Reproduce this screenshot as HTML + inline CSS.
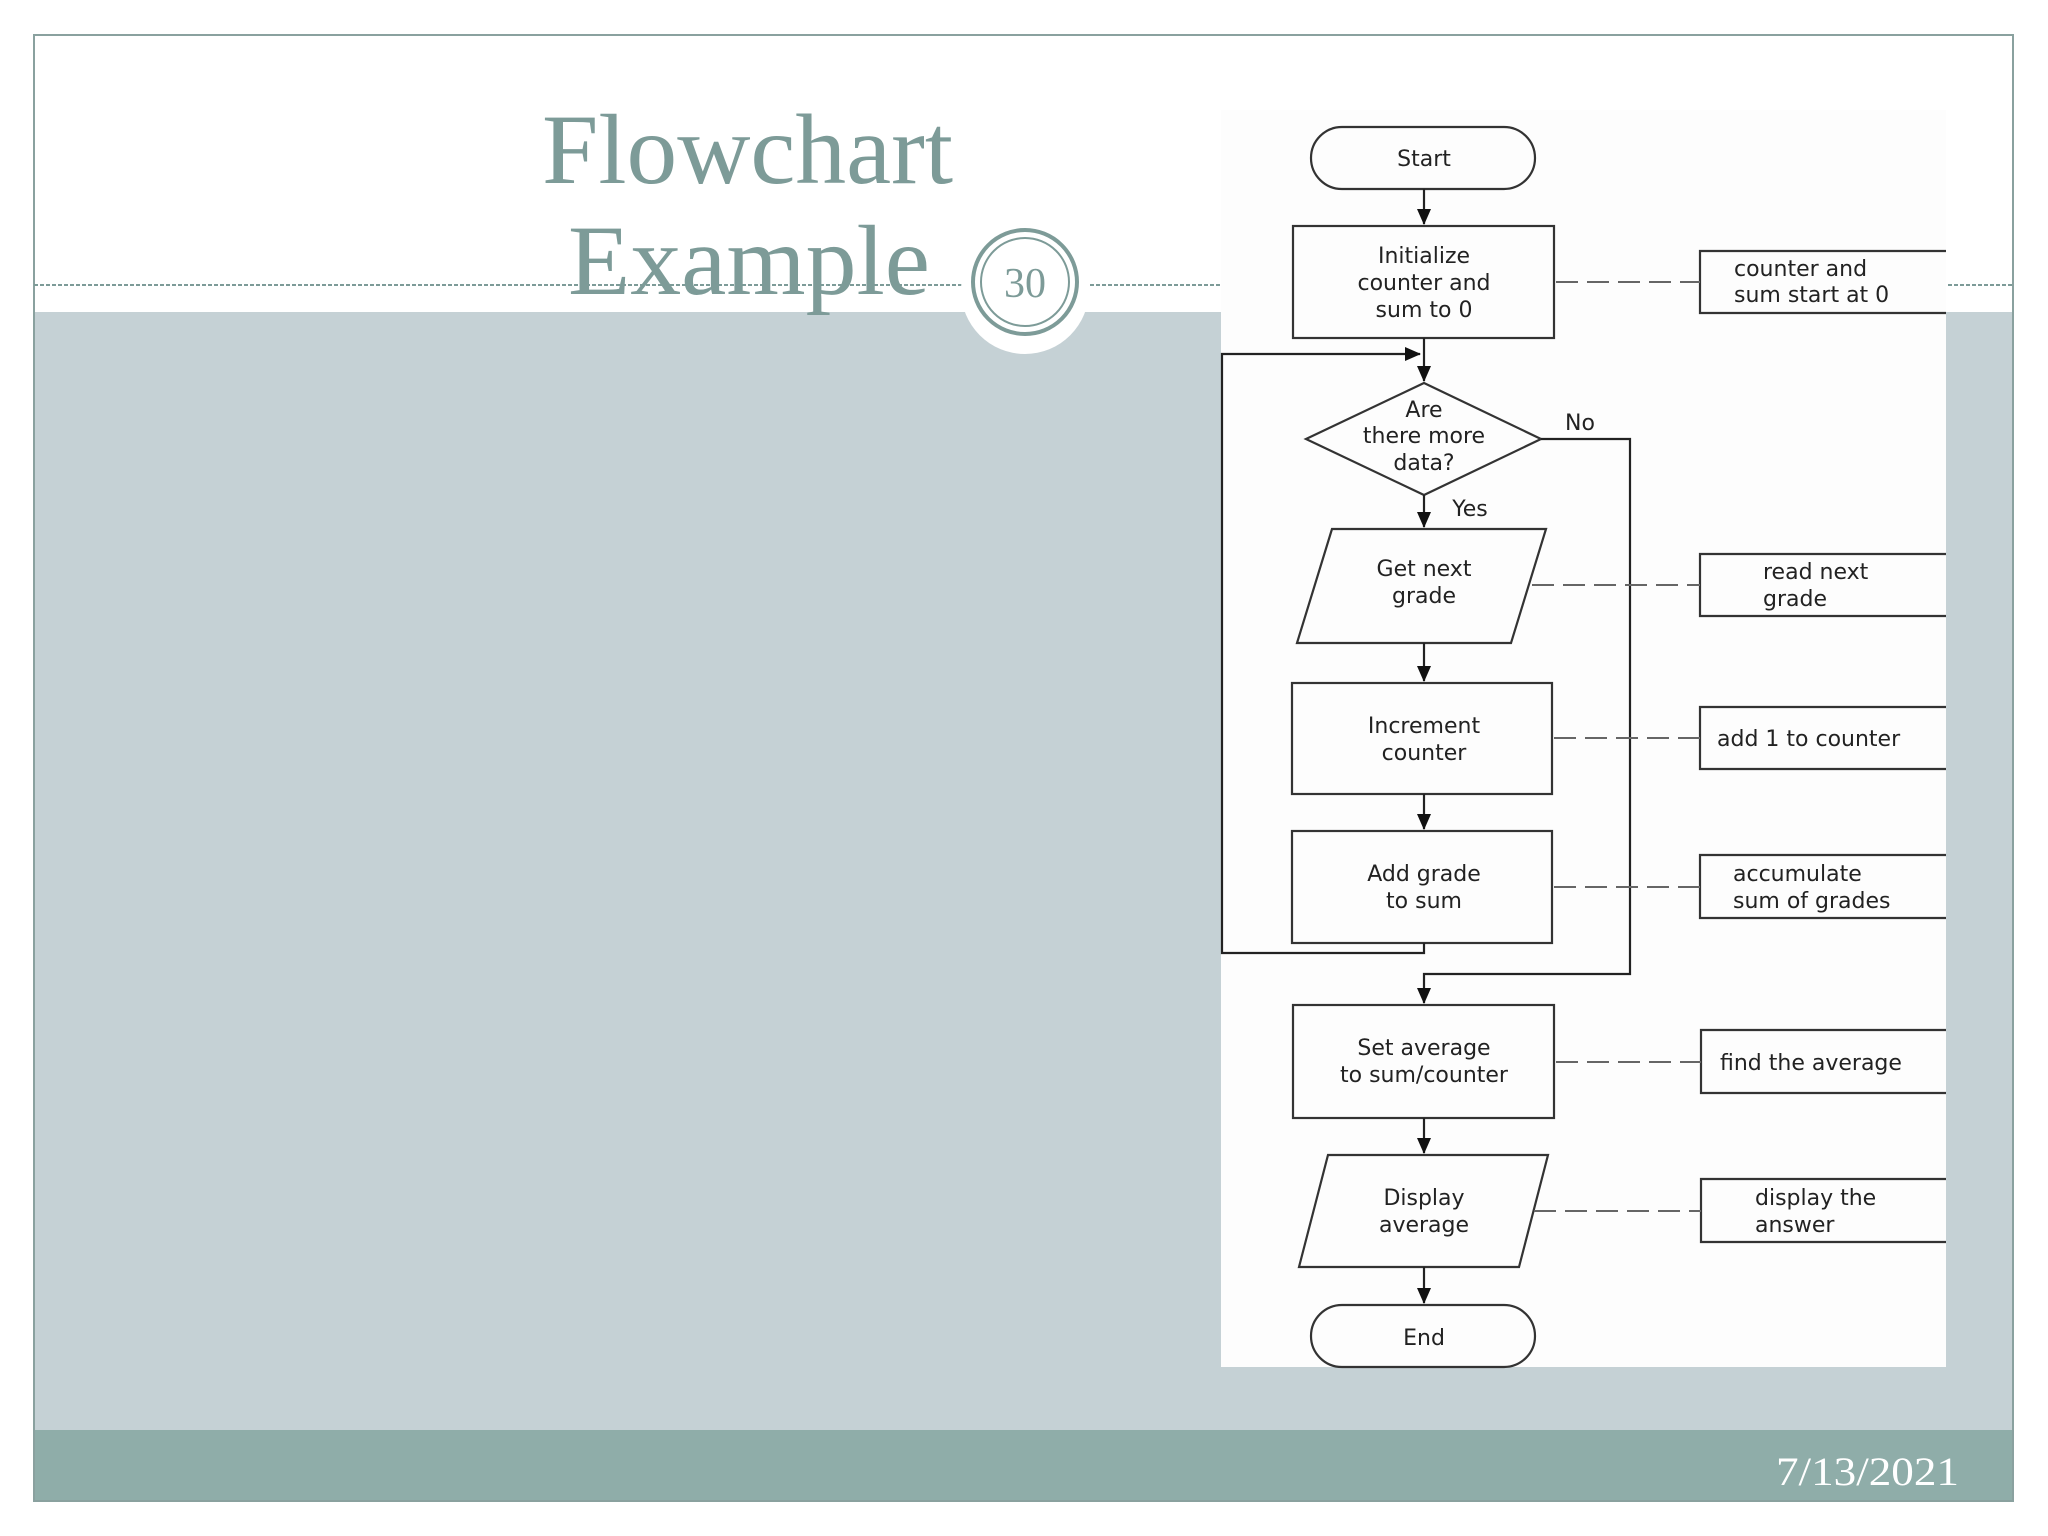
<!DOCTYPE html>
<html><head><meta charset="utf-8"><style>
html,body{margin:0;padding:0;background:#fff;}
svg{display:block;}
</style></head><body>
<svg width="2048" height="1536" viewBox="0 0 2048 1536" xmlns="http://www.w3.org/2000/svg">
<rect width="2048" height="1536" fill="#fff"/>
<rect x="34" y="312" width="1979" height="1118" fill="#c5d1d5"/>
<rect x="34" y="1430" width="1979" height="71" fill="#8fada9"/>
<rect x="34" y="35" width="1979" height="1466" fill="none" stroke="#8aa19f" stroke-width="2"/>
<line x1="34" y1="285" x2="2013" y2="285" stroke="#7d9b98" stroke-width="2" stroke-dasharray="4,2"/>
<rect x="1221" y="110" width="725" height="1257" fill="#fdfdfd"/>
<g font-family="'Liberation Serif',serif" fill="#7d9b98" font-size="100">
<text x="542" y="183" textLength="411" lengthAdjust="spacingAndGlyphs">Flowchart</text>
<text x="568" y="294" textLength="362" lengthAdjust="spacingAndGlyphs">Example</text>
</g>
<circle cx="1025" cy="290" r="64" fill="#fff"/>
<circle cx="1025" cy="282" r="52" fill="#fff" stroke="#7d9b98" stroke-width="4"/>
<circle cx="1025" cy="282" r="44" fill="none" stroke="#7d9b98" stroke-width="2"/>
<text x="1025" y="297" font-family="'Liberation Serif',serif" font-size="42" fill="#7d9b98" text-anchor="middle">30</text>
<text x="1776" y="1485" font-family="'Liberation Serif',serif" font-size="40" fill="#fff" textLength="183" lengthAdjust="spacingAndGlyphs">7/13/2021</text>

<defs>
<marker id="b" markerWidth="16" markerHeight="14" refX="15" refY="7" orient="auto" markerUnits="userSpaceOnUse"><path d="M0,0 L16,7 L0,14z" fill="#111"/></marker></defs>

<g stroke="#333" stroke-width="2.2" fill="none">
<rect x="1311" y="127" width="224" height="62" rx="31"/>
<rect x="1293" y="226" width="261" height="112"/>
<polygon points="1424,383 1541,439 1424,495 1306,439"/>
<polygon points="1332,529 1546,529 1511,643 1297,643"/>
<rect x="1292" y="683" width="260" height="111"/>
<rect x="1292" y="831" width="260" height="112"/>
<rect x="1293" y="1005" width="261" height="113"/>
<polygon points="1328,1155 1548,1155 1519,1267 1299,1267"/>
<rect x="1311" y="1305" width="224" height="62" rx="31"/>
<path d="M1946,251 H1700 V313 H1946"/>
<path d="M1946,554 H1700 V616 H1946"/>
<path d="M1946,707 H1700 V769 H1946"/>
<path d="M1946,855 H1700 V918 H1946"/>
<path d="M1946,1030 H1701 V1093 H1946"/>
<path d="M1946,1179 H1701 V1242 H1946"/>
</g>
<g stroke="#222" stroke-width="2.2" fill="none">
<line x1="1424" y1="189" x2="1424" y2="224" marker-end="url(#b)"/>
<line x1="1424" y1="338" x2="1424" y2="381" marker-end="url(#b)"/>
<line x1="1424" y1="495" x2="1424" y2="527" marker-end="url(#b)"/>
<line x1="1424" y1="643" x2="1424" y2="681" marker-end="url(#b)"/>
<line x1="1424" y1="794" x2="1424" y2="829" marker-end="url(#b)"/>
<path d="M1424,943 V953 H1222 V354 H1420" marker-end="url(#b)"/>
<path d="M1541,439 H1630 V974 H1424 V1003" marker-end="url(#b)"/>
<line x1="1424" y1="1118" x2="1424" y2="1153" marker-end="url(#b)"/>
<line x1="1424" y1="1267" x2="1424" y2="1303" marker-end="url(#b)"/>
</g>
<g stroke="#666" stroke-width="2" stroke-dasharray="22,9" fill="none">
<line x1="1556" y1="282" x2="1700" y2="282"/>
<line x1="1532" y1="585" x2="1700" y2="585"/>
<line x1="1554" y1="738" x2="1700" y2="738"/>
<line x1="1554" y1="887" x2="1700" y2="887"/>
<line x1="1556" y1="1062" x2="1701" y2="1062"/>
<line x1="1534" y1="1211" x2="1701" y2="1211"/>
</g>
<g font-family="'DejaVu Sans','Liberation Sans',sans-serif" font-size="22" fill="#222" text-anchor="middle">
<text x="1424" y="166">Start</text>
<text x="1424" y="263">Initialize</text>
<text x="1424" y="290">counter and</text>
<text x="1424" y="317">sum to 0</text>
<text x="1424" y="417">Are</text>
<text x="1424" y="443">there more</text>
<text x="1424" y="470">data?</text>
<text x="1580" y="430">No</text>
<text x="1470" y="516">Yes</text>
<text x="1424" y="576">Get next</text>
<text x="1424" y="603">grade</text>
<text x="1424" y="733">Increment</text>
<text x="1424" y="760">counter</text>
<text x="1424" y="881">Add grade</text>
<text x="1424" y="908">to sum</text>
<text x="1424" y="1055">Set average</text>
<text x="1424" y="1082">to sum/counter</text>
<text x="1424" y="1205">Display</text>
<text x="1424" y="1232">average</text>
<text x="1424" y="1345">End</text>
</g>
<g font-family="'DejaVu Sans','Liberation Sans',sans-serif" font-size="22" fill="#222">
<text x="1734" y="276">counter and</text>
<text x="1734" y="302">sum start at 0</text>
<text x="1763" y="579">read next</text>
<text x="1763" y="606">grade</text>
<text x="1717" y="746">add 1 to counter</text>
<text x="1733" y="881">accumulate</text>
<text x="1733" y="908">sum of grades</text>
<text x="1720" y="1070">find the average</text>
<text x="1755" y="1205">display the</text>
<text x="1755" y="1232">answer</text>
</g>
</svg>
</body></html>
